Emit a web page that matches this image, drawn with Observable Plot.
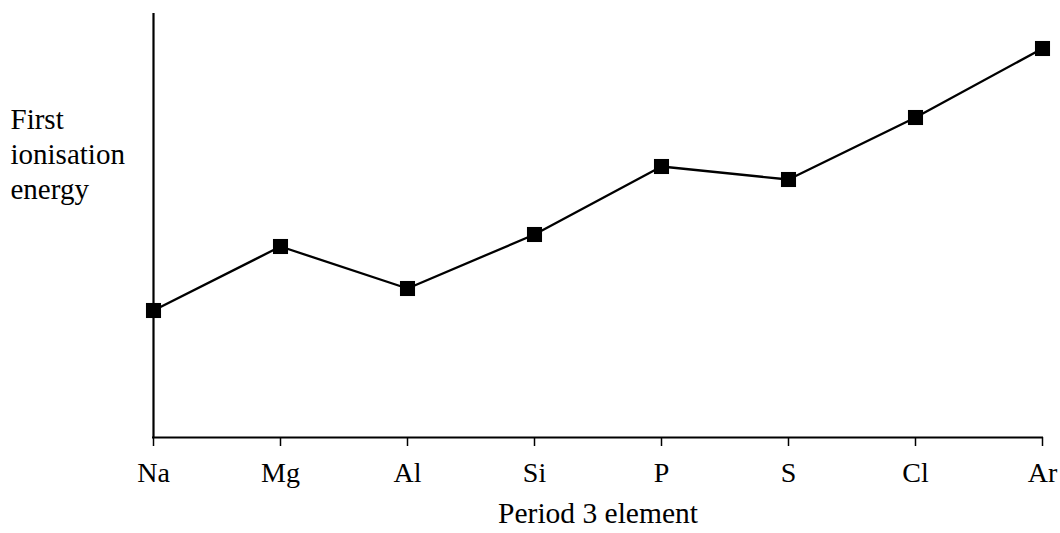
<!DOCTYPE html>
<html>
<head>
<meta charset="utf-8">
<script src="https://cdn.jsdelivr.net/npm/d3@7"></script>
<script src="https://cdn.jsdelivr.net/npm/@observablehq/plot@0.6"></script>
<style>
  html, body { margin: 0; padding: 0; background: #fff; }
  #chart svg { display: block; }
</style>
</head>
<body>
<div id="chart"></div>
<script>
// Period 3 elements (x-axis categories)
const elements = ["Na", "Mg", "Al", "Si", "P", "S", "Cl", "Ar"];
// Relative first ionisation energy (no scale shown, arbitrary units)
const energy = [127, 191, 149, 203, 271, 258, 320, 389];
// Axis texts
const xLabel = "Period 3 element";
const yLabel = "First\nionisation\nenergy";

const data = elements.map((e, i) => ({element: e, energy: energy[i]}));
const font = "'Liberation Serif', 'Times New Roman', serif";

const chart = Plot.plot({
  width: 1060,
  height: 533,
  marginLeft: 152,
  marginRight: 17,
  marginTop: 13,
  marginBottom: 96,
  style: {fontFamily: font, fontSize: "28px", color: "#000", background: "#fff"},
  x: {type: "point", domain: elements, padding: 0},
  y: {domain: [0, 424], axis: null},
  marks: [
    Plot.axisX({tickSize: 9, tickPadding: 16, fontSize: 28, stroke: "#000", strokeWidth: 1.5, label: null}),
    Plot.ruleY([0], {stroke: "#000", strokeWidth: 2.2}),
    Plot.ruleX([elements[0]], {y1: 0, y2: 424, stroke: "#000", strokeWidth: 2.2}),
    Plot.line(data, {x: "element", y: "energy", stroke: "#000", strokeWidth: 2.3}),
    Plot.dot(data, {x: "element", y: "energy", symbol: "square", r: 8.5, fill: "#000", stroke: null}),
    Plot.text([xLabel], {frameAnchor: "bottom", lineAnchor: "bottom", dy: 85, fontSize: 29.5, fill: "#000"}),
    Plot.text([yLabel], {frameAnchor: "top-left", textAnchor: "start", lineAnchor: "top", dx: -142, dy: 91, fontSize: 29, lineHeight: 1.2, fill: "#000"})
  ]
});
document.getElementById("chart").appendChild(chart);
</script>
</body>
</html>
